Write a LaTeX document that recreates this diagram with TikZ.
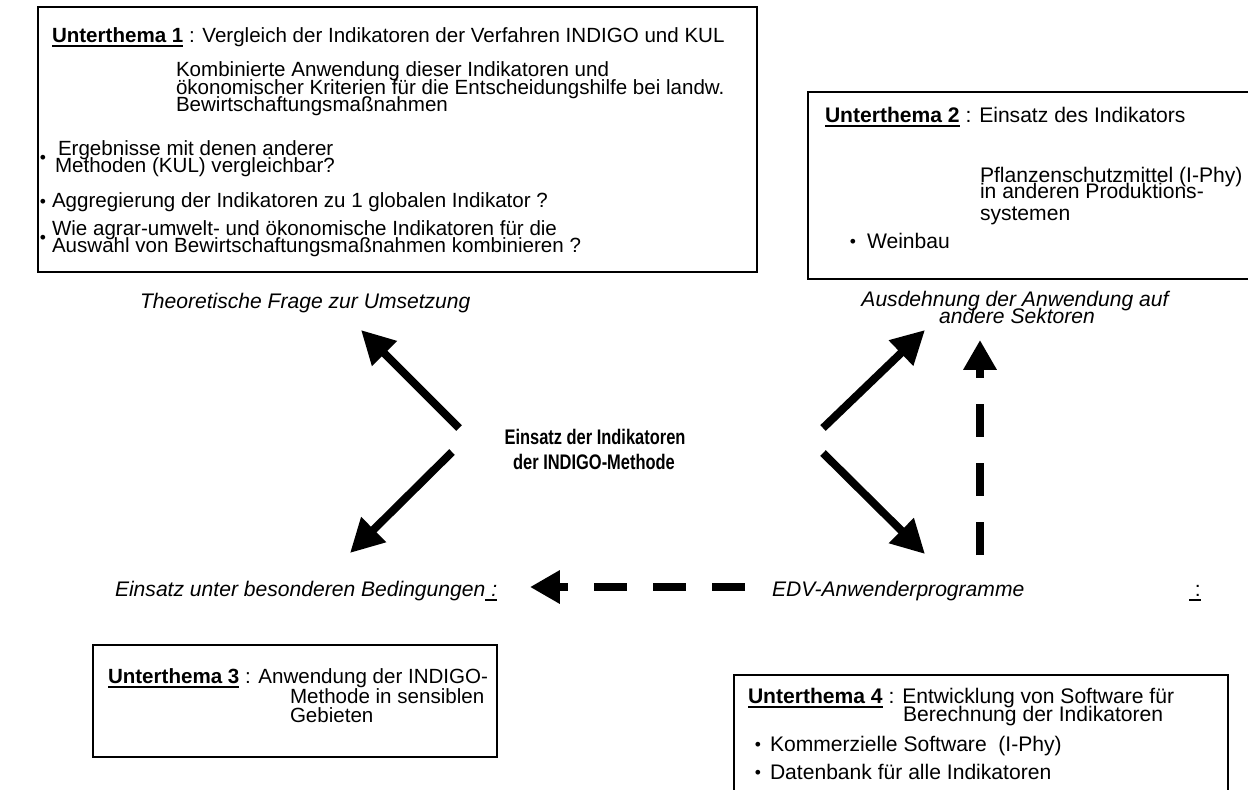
\documentclass[tikz,border=0pt]{standalone}
\usepackage{fontspec}
\usepackage{graphicx}
\setmainfont{Liberation Sans}
\usetikzlibrary{arrows.meta}
\newcommand\ulx[1]{\setbox0\hbox{#1}\rlap{\rule[-2.6pt]{\wd0}{1.1pt}}\box0}
\begin{document}
\begin{tikzpicture}[x=0.02cm,y=-0.02cm,
  every node/.style={inner sep=0pt, outer sep=0pt, font=\fontsize{12}{12}\selectfont},
  small/.style={font=\fontsize{11.7}{11.7}\selectfont},
  txt/.style={anchor=base west},
  ctr/.style={anchor=base},
  bul/.style={anchor=center, font=\fontsize{10}{10}\selectfont},
  frame/.style={draw=black, line width=0.8pt},
  bigarrow/.style={line width=4.5pt, -{Triangle[length=19pt,width=19pt]}},
  dasharrow/.style={line width=4.5pt, dash pattern=on 18.8pt off 14.8pt, -{Triangle[length=17pt,width=18pt]}}
]
\useasboundingbox (0,0) rectangle (1248,789);
% boxes
\draw[frame] (38,7) rectangle (757,272);
\draw[frame] (808,92) rectangle (1256,279);
\draw[frame] (93,645) rectangle (497,757);
\draw[frame] (734,675) rectangle (1228,800);

% box 1
\node[txt,small] (b1h) at (52,42) {\textbf{\ulx{Unterthema 1}} : Vergleich der Indikatoren der Verfahren INDIGO und KUL};
\node[txt,small] (b1p1) at (176,76) {Kombinierte Anwendung dieser Indikatoren und};
\node[txt,small] (b1p2) at (176,94) {ökonomischer Kriterien für die Entscheidungshilfe bei landw.};
\node[txt,small] (b1p3) at (176,111) {Bewirtschaftungsmaßnahmen};
\node[bul] (b1d1) at (43,159) {•};
\node[txt,small] (b1i1a) at (58,155) {Ergebnisse mit denen anderer};
\node[txt,small] (b1i1b) at (55,172) {Methoden (KUL) vergleichbar?};
\node[bul] (b1d2) at (43,203) {•};
\node[txt,small] (b1i2) at (52,207) {Aggregierung der Indikatoren zu 1 globalen Indikator ?};
\node[bul] (b1d3) at (43,239) {•};
\node[txt,small] (b1i3a) at (52,235) {Wie agrar-umwelt- und ökonomische Indikatoren für die};
\node[txt,small] (b1i3b) at (52,252) {Auswahl von Bewirtschaftungsmaßnahmen kombinieren ?};

% box 2
\node[txt] (b2h) at (825,122) {\textbf{\ulx{Unterthema 2}} : Einsatz des Indikators};
\node[txt] (b2p1) at (980,182) {Pflanzenschutzmittel (I-Phy)};
\node[txt] (b2p2) at (980,198) {in anderen Produktions-};
\node[txt] (b2p3) at (980,220) {systemen};
\node[bul] (b2d) at (853,243) {•};
\node[txt] (b2i) at (867,248) {Weinbau};

% box 3
\node[txt,small] (b3h) at (108,683) {\textbf{\ulx{Unterthema 3}} : Anwendung der INDIGO-};
\node[txt,small] (b3p1) at (290,703) {Methode in sensiblen};
\node[txt,small] (b3p2) at (290,722) {Gebieten};

% box 4
\node[txt] (b4h) at (748,703) {\textbf{\ulx{Unterthema 4}} : Entwicklung von Software für};
\node[txt] (b4p1) at (903,721) {Berechnung der Indikatoren};
\node[bul] (b4d1) at (758,746) {•};
\node[txt] (b4i1) at (770,751) {Kommerzielle Software\ \ (I-Phy)};
\node[bul] (b4d2) at (758,774) {•};
\node[txt] (b4i2) at (770,779) {Datenbank für alle Indikatoren};

% labels
\node[txt] (lt) at (140,308) {\itshape Theoretische Frage zur Umsetzung};
\node[ctr] (lr1) at (1015,306) {\itshape Ausdehnung der Anwendung auf};
\node[ctr] (lr2) at (1017,323) {\itshape andere Sektoren};
\node[ctr] (c1) at (595,444) {\scalebox{0.78}[1]{\bfseries Einsatz der Indikatoren}};
\node[ctr] (c2) at (594,469) {\scalebox{0.78}[1]{\bfseries der INDIGO-Methode}};
\node[txt] (lb) at (115,596) {\itshape Einsatz unter besonderen Bedingungen\ulx{\ :}};
\node[txt] (le) at (772,596) {\itshape EDV-Anwenderprogramme};
\node[txt] (lc) at (1189,596) {\ulx{\ :}};

% arrow end points
\coordinate (ulT) at (459,428); \coordinate (ulH) at (361,330);
\coordinate (llT) at (452,452); \coordinate (llH) at (350,553);
\coordinate (urT) at (823,428); \coordinate (urH) at (925,330);
\coordinate (lrT) at (823,453); \coordinate (lrH) at (925,554);
\coordinate (hdT) at (745,587); \coordinate (hdH) at (530,587);
\coordinate (vdT) at (980,555); \coordinate (vdH) at (980,340);

\draw[bigarrow] (ulT) -- (ulH);
\draw[bigarrow] (llT) -- (llH);
\draw[bigarrow] (urT) -- (urH);
\draw[bigarrow] (lrT) -- (lrH);
\draw[dasharrow] (hdT) -- (hdH);
\draw[dasharrow] (vdT) -- (vdH);
\end{tikzpicture}
\end{document}
